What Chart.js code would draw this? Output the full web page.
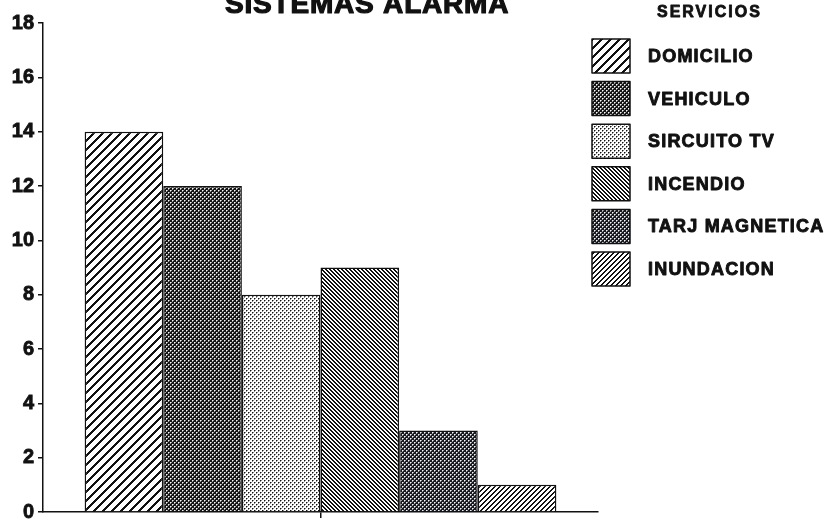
<!DOCTYPE html>
<html>
<head>
<meta charset="utf-8">
<script src="https://cdn.jsdelivr.net/npm/chart.js@4.4.1/dist/chart.umd.min.js"></script>
<style>
  html, body { margin: 0; padding: 0; background: #fff; }
  canvas { display: block; }
</style>
</head>
<body>
<canvas id="c" width="827" height="520"></canvas>
<script>
// Chart content
const chartTitle = 'SISTEMAS ALARMA';
const legendTitle = 'SERVICIOS';
const categories = [''];
const seriesNames = ['DOMICILIO', 'VEHICULO', 'SIRCUITO TV', 'INCENDIO', 'TARJ MAGNETICA', 'INUNDACION'];
const seriesValues = [14, 12, 8, 9, 3, 1];
const yTickValues = [0, 2, 4, 6, 8, 10, 12, 14, 16, 18];

const FONT = '"Liberation Sans", Arial, Helvetica, sans-serif';
const INK = '#111';

// Small repeating tiles used as hatch / screen fills
function tile(size, paint) {
  const c = document.createElement('canvas');
  c.width = c.height = size;
  const g = c.getContext('2d');
  g.fillStyle = '#fff';
  g.fillRect(0, 0, size, size);
  paint(g, size);
  return g.createPattern(c, 'repeat');
}
function stripes(period, width, dir) {
  return tile(period, (g, p) => {
    g.fillStyle = INK;
    for (let y = 0; y < p; y++) {
      for (let x = 0; x < p; x++) {
        const k = dir > 0 ? (x + y) % p : (((x - y) % p) + p) % p;
        if (k < width) g.fillRect(x, y, 1, 1);
      }
    }
  });
}
// staggered dot screen on a 4px grid
function screen(paper, ink, halo) {
  return tile(4, (g, s) => {
    g.fillStyle = paper;
    g.fillRect(0, 0, s, s);
    g.fillStyle = halo;
    g.fillRect(1, 0, 1, 1);
    g.fillRect(3, 2, 1, 1);
    g.fillRect(0, 1, 1, 1);
    g.fillRect(2, 3, 1, 1);
    g.fillStyle = ink;
    g.fillRect(0, 0, 1, 1);
    g.fillRect(2, 2, 1, 1);
  });
}

const fills = [
  stripes(9, 3, +1),                        // wide "/" hatch
  screen('#161616', '#f6f6f6', '#9a9a9a'),  // dark screen
  screen('#ffffff', '#121212', '#8a8a8a'),  // light screen
  stripes(4, 2, -1),                        // dense "\" hatch
  screen('#181b23', '#f6f6f6', '#9a9ca2'),  // dark screen
  stripes(5, 2, +1)                         // medium "/" hatch
];

const datasets = seriesNames.map((name, i) => ({
  label: name,
  data: [seriesValues[i]],
  backgroundColor: fills[i],
  borderColor: INK,
  borderWidth: 1.5,
  borderSkipped: 'bottom'
}));

function heavyText(ctx, text, x, y, stroke) {
  ctx.lineWidth = stroke;
  ctx.lineJoin = 'round';
  ctx.strokeStyle = INK;
  ctx.strokeText(text, x, y);
  ctx.fillText(text, x, y);
}

// Title drawn partly above the top edge
const titlePlugin = {
  id: 'topTitle',
  afterDraw(chart) {
    const ctx = chart.ctx;
    ctx.save();
    ctx.font = 'bold 28px ' + FONT;
    ctx.letterSpacing = '0.8px';
    ctx.fillStyle = INK;
    ctx.textAlign = 'left';
    ctx.textBaseline = 'alphabetic';
    heavyText(ctx, chartTitle, 225, 13, 1.2);
    ctx.restore();
  }
};

// Legend column with swatches on the right
const sideLegend = {
  id: 'sideLegend',
  afterDraw(chart) {
    const ctx = chart.ctx;
    ctx.save();
    ctx.fillStyle = INK;
    ctx.textAlign = 'left';
    ctx.textBaseline = 'middle';
    ctx.font = 'bold 16px ' + FONT;
    ctx.letterSpacing = '2px';
    heavyText(ctx, legendTitle, 657, 13, 0.8);
    ctx.font = 'bold 18px ' + FONT;
    ctx.letterSpacing = '1.2px';
    chart.data.datasets.forEach((ds, i) => {
      const x = 592, y = 39 + i * 42.6, w = 38, h = 34;
      ctx.fillStyle = ds.backgroundColor;
      ctx.fillRect(x, y, w, h);
      ctx.strokeStyle = INK;
      ctx.lineWidth = 1.5;
      ctx.strokeRect(x, y, w, h);
      ctx.fillStyle = INK;
      heavyText(ctx, ds.label, 648, y + h / 2 + 1, 0.9);
    });
    ctx.restore();
  }
};

new Chart(document.getElementById('c'), {
  type: 'bar',
  data: { labels: categories, datasets },
  plugins: [titlePlugin, sideLegend],
  options: {
    responsive: false,
    animation: false,
    devicePixelRatio: 1,
    layout: { padding: { left: 0, right: 229, top: 23, bottom: 0 } },
    datasets: { bar: { barPercentage: 1, categoryPercentage: 0.85 } },
    plugins: { legend: { display: false }, title: { display: false }, tooltip: { enabled: false } },
    scales: {
      x: {
        offset: true,
        grid: { display: true, drawOnChartArea: false, drawTicks: true, tickLength: 6, offset: false, color: INK, lineWidth: 1.5 },
        border: { display: true, color: INK, width: 1.5 },
        ticks: { display: false },
        afterFit(scale) { scale.height = 8; }
      },
      y: {
        min: 0,
        max: 18,
        afterBuildTicks(scale) { scale.ticks = yTickValues.map(v => ({ value: v })); },
        grid: { display: true, drawOnChartArea: false, drawTicks: true, tickLength: 5, color: INK, lineWidth: 1.5 },
        border: { display: true, color: INK, width: 1.5 },
        ticks: {
          color: INK, padding: 4,
          textStrokeColor: INK, textStrokeWidth: 0.8,
          font: { family: FONT, size: 20, weight: 'bold' }
        },
        afterFit(scale) {
          scale.width = 43;
          scale.paddingTop = 0;
          scale.paddingBottom = 0;
        }
      }
    }
  }
});
</script>
</body>
</html>
